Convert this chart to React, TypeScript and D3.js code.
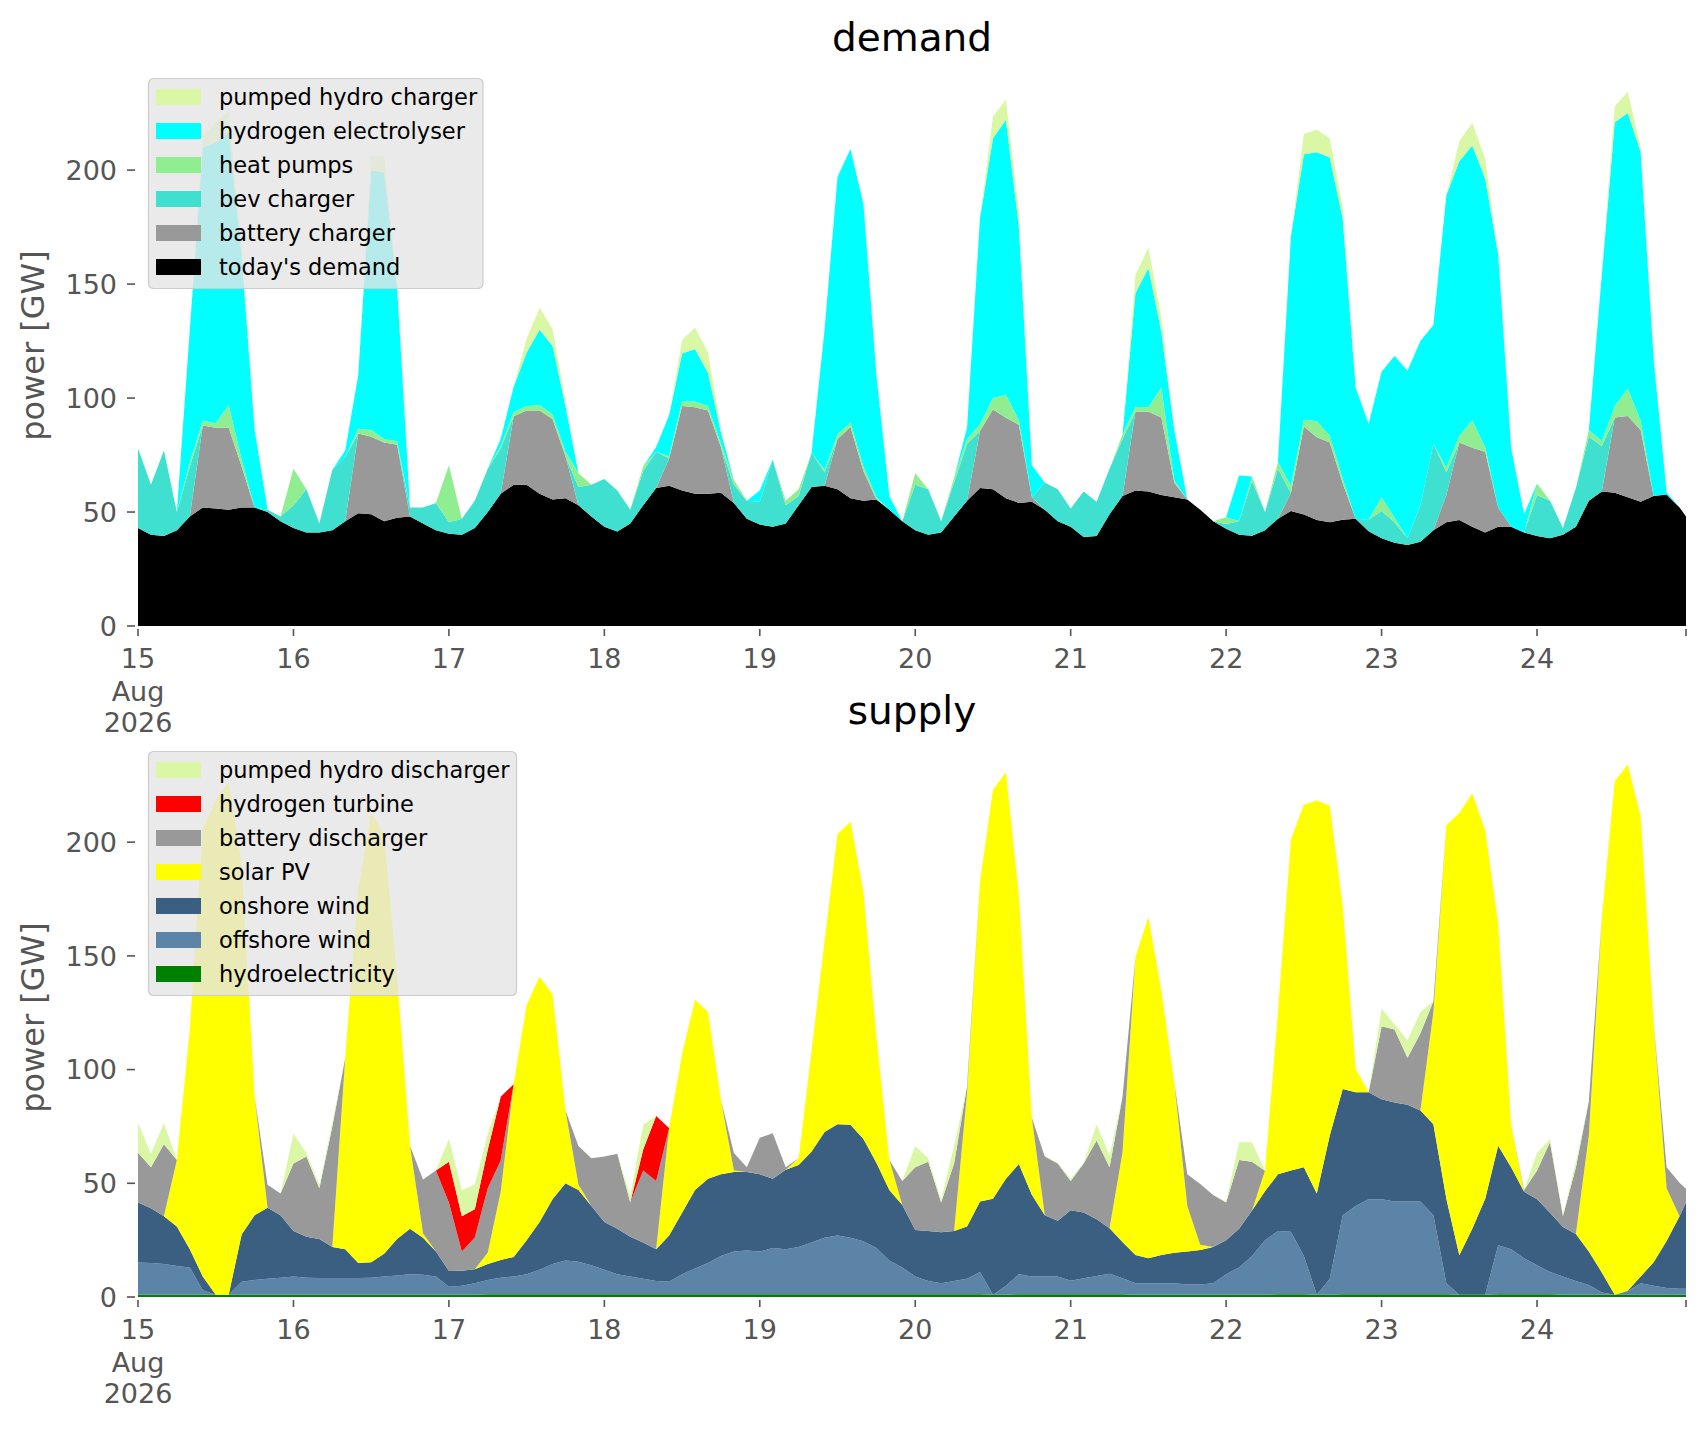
import * as d3 from 'd3'

// hourly snapshots sampled every 2 h, 15 Aug 2026 00:00 .. 24 Aug 23:00
const START = Date.UTC(2026, 7, 15)
const HOURS = [...d3.range(0, 240, 2), 239]

// ---- demand [GW] (one row per day, 12 values = every 2 hours) ----
const todaysDemand = [
  43, 40, 39.5, 42, 48, 52, 51.5, 51, 52, 52, 50, 46,
  43, 41, 41, 42, 46, 49.5, 49, 46, 47.5, 48, 45, 42,
  40.5, 40, 43, 50, 58, 62, 62, 58, 55.5, 56, 53, 48,
  43.5, 41.5, 45, 53, 60.5, 61.5, 59.5, 58, 58, 58.5, 54, 47,
  44.5, 43.5, 45, 53, 61, 61.5, 60, 56, 55, 55.5, 51, 46,
  42, 40, 41, 48, 55, 60.5, 60, 56, 54, 54.5, 51, 46,
  43.5, 39, 39.5, 49, 57, 59.5, 59, 57.5, 56.5, 55.5, 51, 46,
  42.7, 40, 39.6, 42, 47, 50.4, 48.9, 46.5, 45.5, 46.6, 47, 41.6,
  38.5, 36.5, 35.5, 37, 42, 45.5, 46.5, 43.5, 41, 43.5, 43.5, 41,
  39.5, 38.5, 40, 43.5, 55, 59, 58.5, 56.5, 54.5, 57, 57.7, 52,
  48,
]
const batteryCharger = [
  0, 0, 0, 0, 0, 36, 35.5, 36, 18, 0, 0, 0,
  0, 0, 0, 0, 0, 35, 34, 34.5, 32, 0, 0, 0,
  0, 0, 0, 0, 0, 30, 32.5, 36.5, 35.3, 18.5, 0, 0,
  0, 0, 0, 0, 0, 12, 37, 38, 36.5, 20, 0, 0,
  0, 0, 0, 0, 0, 0, 22, 31.3, 13, 0, 0, 0,
  0, 0, 0, 0, 0, 25, 35, 35.4, 34.3, 2, 0, 0,
  0, 0, 0, 0, 0, 34.6, 35, 34, 6.3, 0, 0, 0,
  0, 0, 0, 0, 0, 8, 38.6, 36.3, 35, 16, 0, 0,
  0, 0, 0, 0, 0, 12, 34, 34.7, 35.4, 8.5, 0, 0,
  0, 0, 0, 0, 0, 0, 33, 35.6, 31.5, 0, 0, 0,
  0,
]
const bevCharger = [
  35, 22, 37.5, 8, 22, 0, 0, 0, 0, 0, 1, 2,
  10, 19, 4, 26.5, 28, 0, 0, 0, 0, 4, 7, 12,
  5, 7, 12, 19, 20, 0, 0, 0, 0, 0, 8, 14,
  21, 18, 6, 15, 16, 0, 0, 0, 0, 0, 8, 8,
  10, 29.5, 8, 4, 15, 6, 0, 0, 0, 0, 0, 0,
  20, 20, 5, 15, 25, 0, 0, 0, 0, 0, 12, 14,
  8, 20, 15, 20, 25, 0, 0, 0, 0, 0, 0, 0,
  2, 6, 24, 8, 22, 0, 0, 0, 0, 0, 0, 5,
  12, 9, 3, 16, 38, 10, 0, 0, 0, 0, 0, 0,
  18, 16.5, 3, 17, 28, 20, 0, 0, 0, 0, 0, 0,
  0,
]
const heatPumps = [
  0, 0, 0, 0, 2, 2, 2, 10, 3, 0, 0, 0,
  16, 0, 0, 0, 0, 2, 3, 1.5, 1.5, 0, 0, 0,
  25, 0, 0, 0, 1, 2, 2, 2.5, 2, 2, 6, 0,
  0, 0, 0, 2, 0, 1, 2, 2.5, 2, 1.5, 2, 0,
  0, 0, 2, 3, 0, 1, 2, 2, 2, 1, 0, 0,
  5, 0, 0, 2, 2, 3, 5, 10, 2, 0, 0, 0,
  0, 0, 0, 0, 2, 2, 2, 13, 1, 0, 0, 0,
  3, 0, 2, 0, 3, 3, 3, 7, 3, 2, 0, 0,
  6, 2, 0, 0, 0, 2, 3, 12, 2, 0, 0, 0,
  5, 0, 0, 0, 3, 2, 5, 12, 4, 0, 0, 0,
  0,
]
const hydrogenElectrolyser = [
  0, 0, 0, 0, 58, 120, 123, 120, 90, 34, 0, 0,
  0, 0, 0, 0, 3, 23.5, 114, 117, 68, 0, 0, 0,
  0, 0, 0, 0, 3, 11, 23.5, 33, 30, 20, 0, 0,
  0, 0, 0, 0, 2, 18, 21, 23, 14.5, 5, 0, 0,
  5, 0, 0, 0, 0, 61.5, 113, 120, 115, 53.5, 6, 0,
  0, 0, 0, 0, 5, 90.5, 114, 120.6, 85, 14, 0, 0,
  0, 0, 0, 0, 0, 50, 61, 24.5, 22, 0, 0, 0,
  0, 20, 0, 0, 0, 109.6, 116.5, 118, 122, 114, 57.5, 42,
  55, 71, 73.5, 72, 52, 119.5, 120.4, 120.6, 117.8, 111, 34.5, 8,
  0, 0, 0, 0, 0, 73, 124.5, 121, 118, 60, 1, 0,
  0,
]
const pumpedHydroCharger = [
  0, 0, 0, 0, 0, 5, 9, 9, 3, 0, 0, 0,
  0, 0, 0, 0, 0, 0, 6, 7, 2, 0, 0, 0,
  0, 0, 0, 0, 0, 0, 6, 9.6, 7.5, 2, 0, 0,
  0, 0, 0, 0, 0, 0, 6, 9.5, 9, 2, 0, 0,
  0, 0, 0, 0, 0, 0, 0, 0, 0, 0, 0, 0,
  0, 0, 0, 0, 0, 0, 9.5, 9, 6, 0, 0, 0,
  0, 0, 0, 0, 0, 8, 9, 6.4, 0, 0, 0, 0,
  0, 0, 0, 0, 0, 0, 8.8, 10, 8.5, 5, 0, 0,
  0, 0, 0, 0, 0, 0, 8.8, 10, 8.8, 0, 0, 0,
  0, 0, 0, 0, 0, 0, 7, 9.3, 2, 0, 0, 0,
  0,
]

// ---- supply [GW] ----
const hydroelectricity = [
  1, 1, 1, 1, 1, 1, 1, 1, 1, 1, 1, 1,
  1, 1, 1, 1, 1, 1, 1, 1, 1, 1, 1, 1,
  1, 1, 1, 1.2, 1.2, 1.2, 1.2, 1.2, 1.2, 1.2, 1.2, 1.2,
  1.2, 1.2, 1.2, 1.2, 1.2, 1.2, 1.2, 1.2, 1.2, 1.2, 1.2, 1.2,
  1.2, 1.2, 1.2, 1.2, 1.2, 1.2, 1.2, 1.2, 1.2, 1.2, 1.2, 1.2,
  1.2, 1.2, 1.2, 1.2, 1.2, 1.2, 1, 1, 1.2, 1.2, 1.2, 1.2,
  1.2, 1.2, 1.2, 1.2, 1.2, 1, 1, 1, 1, 1, 1, 1,
  1, 1, 1, 1, 1.2, 1.2, 1.2, 1, 1, 1.2, 1.2, 1.2,
  1.2, 1.2, 1.2, 1.2, 1.2, 1.2, 1, 1, 1, 1.2, 1.2, 1.2,
  1.2, 1.2, 1, 1, 1, 1, 1, 1, 1, 1, 1, 1,
  1,
]
const offshoreWind = [
  14.2, 14, 13.5, 12.6, 12, 2, 0, 0, 5.7, 6.5, 7, 7.5,
  8, 7.5, 7.3, 7.3, 7.3, 7.3, 7.5, 8, 8.5, 9, 8.8, 8,
  3.5, 4, 5, 6.3, 7.3, 7.8, 8.8, 10.8, 13.3, 14.8, 14.3, 12.8,
  10.8, 8.8, 7.8, 6.8, 5.8, 5.5, 8.8, 11.3, 13.8, 16.8, 18.8, 19.3,
  18.8, 20.3, 19.8, 20.8, 22.8, 24.8, 25.8, 24.8, 23.3, 20.3, 14.8, 11.8,
  7.8, 5.8, 4.8, 5.8, 6.8, 9.8, 0, 4, 8.8, 7.8, 7.8, 7.8,
  6, 7, 8, 9, 7, 5, 5, 5, 5, 4.5, 4.5, 5,
  9, 12, 17, 24, 27.8, 27.5, 16.8, 0, 7, 34.8, 38.8, 41.8,
  41.8, 40.8, 40.8, 40.8, 34.8, 4.8, 0, 0, 0, 21.6, 19.8, 15.8,
  12.8, 9.8, 8, 6, 4.3, 1, 0, 1.5, 5, 4, 3, 2.6,
  2.6,
]
const onshoreWind = [
  26.3, 24, 21, 17.4, 8, 6, 0, 0, 20.8, 28.5, 31.3, 27.5,
  20, 18, 17.2, 13.7, 12.7, 6.7, 6.8, 10, 16, 20, 16.2, 11,
  6.9, 6.5, 6.2, 7, 7.8, 8.6, 15, 21, 28.5, 34, 31.5, 26,
  21, 20, 17.5, 16, 14, 20.3, 27, 34.5, 37, 36, 35, 34.5,
  34, 30.5, 35, 36, 40, 46.5, 49, 49.7, 45, 37.5, 31, 27.5,
  20.5, 22, 22.5, 22, 23, 31, 42.2, 47, 48.5, 36, 27, 24.5,
  31, 29, 25, 20, 16, 12.5, 11, 12.5, 13.5, 14.5, 15.2, 16,
  15, 17, 20, 21.5, 25, 26.9, 39, 44.5, 63, 55.5, 50, 47,
  44, 43.5, 42.5, 40, 40, 37.2, 17.4, 29, 42.2, 43.7, 36.1, 29.3,
  29, 26, 21.8, 20.7, 14.7, 8.8, 0, 0.3, 3, 10.3, 20.6, 31.9,
  38,
]
const solarPV = [
  0, 0, 0, 29.2, 96.6, 196.9, 217.3, 225.8, 162.9, 52, 0, 0,
  0, 0, 0, 0, 84.2, 164.5, 198.3, 183.8, 115.3, 36.4, 2, 0,
  0, 0, 0, 5, 30, 76, 103.4, 107.8, 90, 32, 2.4, 0,
  0, 0, 0, 0, 0, 47.2, 69.7, 83.7, 73.3, 32.6, 0.6, 0,
  0, 0, 0, 3, 44.3, 83.8, 127.5, 133.3, 108.5, 55.5, 13.2, 0,
  0, 0, 0, 0, 58.7, 140.6, 179.7, 178.7, 117.9, 33.8, 0, 0,
  0, 0, 0, 0, 39.3, 131, 150.1, 116.1, 74.8, 20, 2.3, 0,
  0, 0, 0, 9, 71.3, 145.6, 159.4, 172.8, 145, 80.3, 10.5, 0,
  0, 0, 0, 0, 49.3, 164.2, 194.4, 191.4, 161.9, 97.5, 18.6, 0,
  0, 0, 0, 0, 51, 155.8, 225.8, 231.3, 202.3, 105.4, 23.2, 0,
  0,
]
const batteryDischarger = [
  21.9, 18, 31.7, 0, 0, 0, 0, 0, 0, 0, 10.1, 9.5,
  29.7, 35.3, 22.3, 53, 0, 0, 0, 0, 0, 0, 23.7, 35.6,
  30.2, 8.5, 14, 28.3, 13.7, 0, 0, 0, 0, 0, 17, 21,
  28.8, 33, 15, 31.6, 30, 0, 0, 0, 0, 0, 7.7, 2,
  16, 20, 1, 0, 0, 0, 0, 0, 0, 0, 0, 10.5,
  27.6, 30.5, 13, 29.7, 3, 0, 0, 0, 0, 0, 25.8, 25.2,
  12.8, 21.5, 34.6, 26.9, 24.5, 0, 0, 0, 0, 14, 26.7, 22.8,
  16.6, 30.2, 21.5, 0, 0, 0, 0, 0, 0, 0, 0, 0,
  32.1, 32.1, 20.7, 34, 4.7, 0, 0, 0, 0, 0, 0, 0.7,
  12.6, 31, 4.7, 29.4, 15, 0, 0, 0, 0, 0, 9.3, 14.7,
  6,
]
const hydrogenTurbine = [
  0, 0, 0, 0, 0, 0, 0, 0, 0, 0, 0, 0,
  0, 0, 0, 0, 0, 0, 0, 0, 0, 0, 0, 0,
  17.9, 15.5, 12.4, 17, 28, 0, 0, 0, 0, 0, 0, 0,
  0, 0, 0, 9.3, 28.6, 0, 0, 0, 0, 0, 0, 0,
  0, 0, 0, 0, 0, 0, 0, 0, 0, 0, 0, 0,
  0, 0, 0, 0, 0, 0, 0, 0, 0, 0, 0, 0,
  0, 0, 0, 0, 0, 0, 0, 0, 0, 0, 0, 0,
  0, 0, 0, 0, 0, 0, 0, 0, 0, 0, 0, 0,
  0, 0, 0, 0, 0, 0, 0, 0, 0, 0, 0, 0,
  0, 0, 0, 0, 0, 0, 0, 0, 0, 0, 0, 0,
  0,
]
const pumpedHydroDischarger = [
  13.1, 6, 9.3, 0, 0, 0, 0, 0, 0, 0, 0, 0,
  13.2, 1.5, 1.6, 1.5, 0, 0, 0, 0, 0, 0, 0, 0,
  10, 11.6, 10.8, 7, 0, 0, 0, 0, 0, 0, 0, 0,
  0, 0, 3, 10.8, 0, 0, 0, 0, 0, 0, 0, 0,
  0, 0, 0, 0, 0, 0, 0, 0, 0, 0, 0, 0,
  9.3, 1.5, 1.4, 7.7, 0, 0, 0, 0, 0, 0, 0, 0.3,
  1, 0.3, 7, 5, 0, 0, 0, 0, 0, 0, 0, 0,
  0.4, 7.8, 8.5, 0, 0, 0, 0, 0, 0, 0, 0, 0,
  7.7, 2.3, 7.7, 9.3, 0, 0, 0, 0, 0, 0, 0, 0,
  7.7, 1.5, 0.5, 2.4, 0, 0, 0, 0, 0, 0, 0, 0,
  0,
]

const DAYS = d3.range(15, 25)
const Y_TICKS = [0, 50, 100, 150, 200]

type Layer = { key: string; label: string; color: string; values: number[] }

// bottom of the stack first
const demandLayers: Layer[] = [
  { key: 'demand', label: "today's demand", color: '#000000', values: todaysDemand },
  { key: 'battery', label: 'battery charger', color: '#999999', values: batteryCharger },
  { key: 'bev', label: 'bev charger', color: '#40e0d0', values: bevCharger },
  { key: 'heat', label: 'heat pumps', color: '#90ee90', values: heatPumps },
  { key: 'h2', label: 'hydrogen electrolyser', color: '#00ffff', values: hydrogenElectrolyser },
  { key: 'phs', label: 'pumped hydro charger', color: '#daf7a6', values: pumpedHydroCharger },
]
const supplyLayers: Layer[] = [
  { key: 'hydro', label: 'hydroelectricity', color: '#008000', values: hydroelectricity },
  { key: 'offwind', label: 'offshore wind', color: '#5c84a6', values: offshoreWind },
  { key: 'onwind', label: 'onshore wind', color: '#3a5f81', values: onshoreWind },
  { key: 'solar', label: 'solar PV', color: '#ffff00', values: solarPV },
  { key: 'battery', label: 'battery discharger', color: '#999999', values: batteryDischarger },
  { key: 'h2', label: 'hydrogen turbine', color: '#ff0000', values: hydrogenTurbine },
  { key: 'phs', label: 'pumped hydro discharger', color: '#daf7a6', values: pumpedHydroDischarger },
]

const FONT = '"DejaVu Sans", sans-serif'
const X0 = 138
const X1 = 1686
const HOUR = 3600 * 1000

type Row = { date: Date; [k: string]: number | Date }

function Panel({ title, layers, top, bottom, legendWidth }: {
  title: string; layers: Layer[]; top: number; bottom: number; legendWidth: number
}) {
  const rows: Row[] = HOURS.map((h, i) => {
    const r: Row = { date: new Date(START + h * HOUR) }
    layers.forEach((l) => { r[l.key] = l.values[i] })
    return r
  })
  const series = d3.stack<Row>().keys(layers.map((l) => l.key))(rows)
  const yMax = (d3.max(series[series.length - 1], (d) => d[1]) ?? 0) * 1.05

  const x = d3.scaleUtc().domain([new Date(START), new Date(START + 239 * HOUR)]).range([X0, X1])
  const y = d3.scaleLinear().domain([0, yMax]).range([bottom, top])
  const area = d3.area<d3.SeriesPoint<Row>>()
    .x((d) => x(d.data.date as Date))
    .y0((d) => y(d[0]))
    .y1((d) => y(d[1]))

  const legendItems = [...layers].reverse()
  const lgTop = top + 13.5
  const lgH = 18.5 + (legendItems.length - 1) * 34 + 21.5

  return (
    <g>
      <text x={(X0 + X1) / 2} y={top - 14.5} textAnchor="middle" fontSize={39} fill="#000">{title}</text>
      {series.map((s, i) => (
        <path key={s.key} d={area(s) ?? ''} fill={layers[i].color} />
      ))}

      {/* y axis */}
      {Y_TICKS.map((v) => (
        <g key={v}>
          <line x1={X0 - 11} x2={X0 - 3} y1={y(v)} y2={y(v)} stroke="#555" strokeWidth={1.6} />
          <text x={117} y={y(v)} dy="0.36em" textAnchor="end" fontSize={27} fill="#555">{v}</text>
        </g>
      ))}
      <text transform={`translate(44,${(top + bottom) / 2}) rotate(-90)`} textAnchor="middle" fontSize={32} fill="#555">power [GW]</text>

      {/* x axis */}
      {DAYS.map((d, i) => {
        const px = x(new Date(START + i * 24 * HOUR))
        return (
          <g key={d}>
            <line x1={px} x2={px} y1={bottom + 3} y2={bottom + 10} stroke="#555" strokeWidth={1.6} />
            <text x={px} y={bottom + 42} textAnchor="middle" fontSize={27} fill="#555">{d}</text>
            {i === 0 && (
              <>
                <text x={px} y={bottom + 75} textAnchor="middle" fontSize={27} fill="#555">Aug</text>
                <text x={px} y={bottom + 106} textAnchor="middle" fontSize={27} fill="#555">2026</text>
              </>
            )}
          </g>
        )
      })}
      <line x1={X1} x2={X1} y1={bottom + 3} y2={bottom + 10} stroke="#555" strokeWidth={1.6} />

      {/* legend */}
      <rect x={148.5} y={lgTop} width={legendWidth} height={lgH} rx={5} fill="#e5e5e5" fillOpacity={0.8} stroke="#cccccc" strokeWidth={1.2} />
      {legendItems.map((l, i) => {
        const cy = lgTop + 18.5 + i * 34
        return (
          <g key={l.key}>
            <rect x={156} y={cy - 8} width={45} height={16} fill={l.color} />
            <text x={219} y={cy} dy="0.35em" fontSize={22.5} fill="#000">{l.label}</text>
          </g>
        )
      })}
    </g>
  )
}

export default function App() {
  return (
    <svg
      width={1706}
      height={1431}
      style={{ position: 'absolute', left: 0, top: 0, background: '#fff' }}
      fontFamily={FONT}
    >
      <Panel title="demand" layers={demandLayers} top={65} bottom={626} legendWidth={334.5} />
      <Panel title="supply" layers={supplyLayers} top={738} bottom={1297} legendWidth={368} />
    </svg>
  )
}
